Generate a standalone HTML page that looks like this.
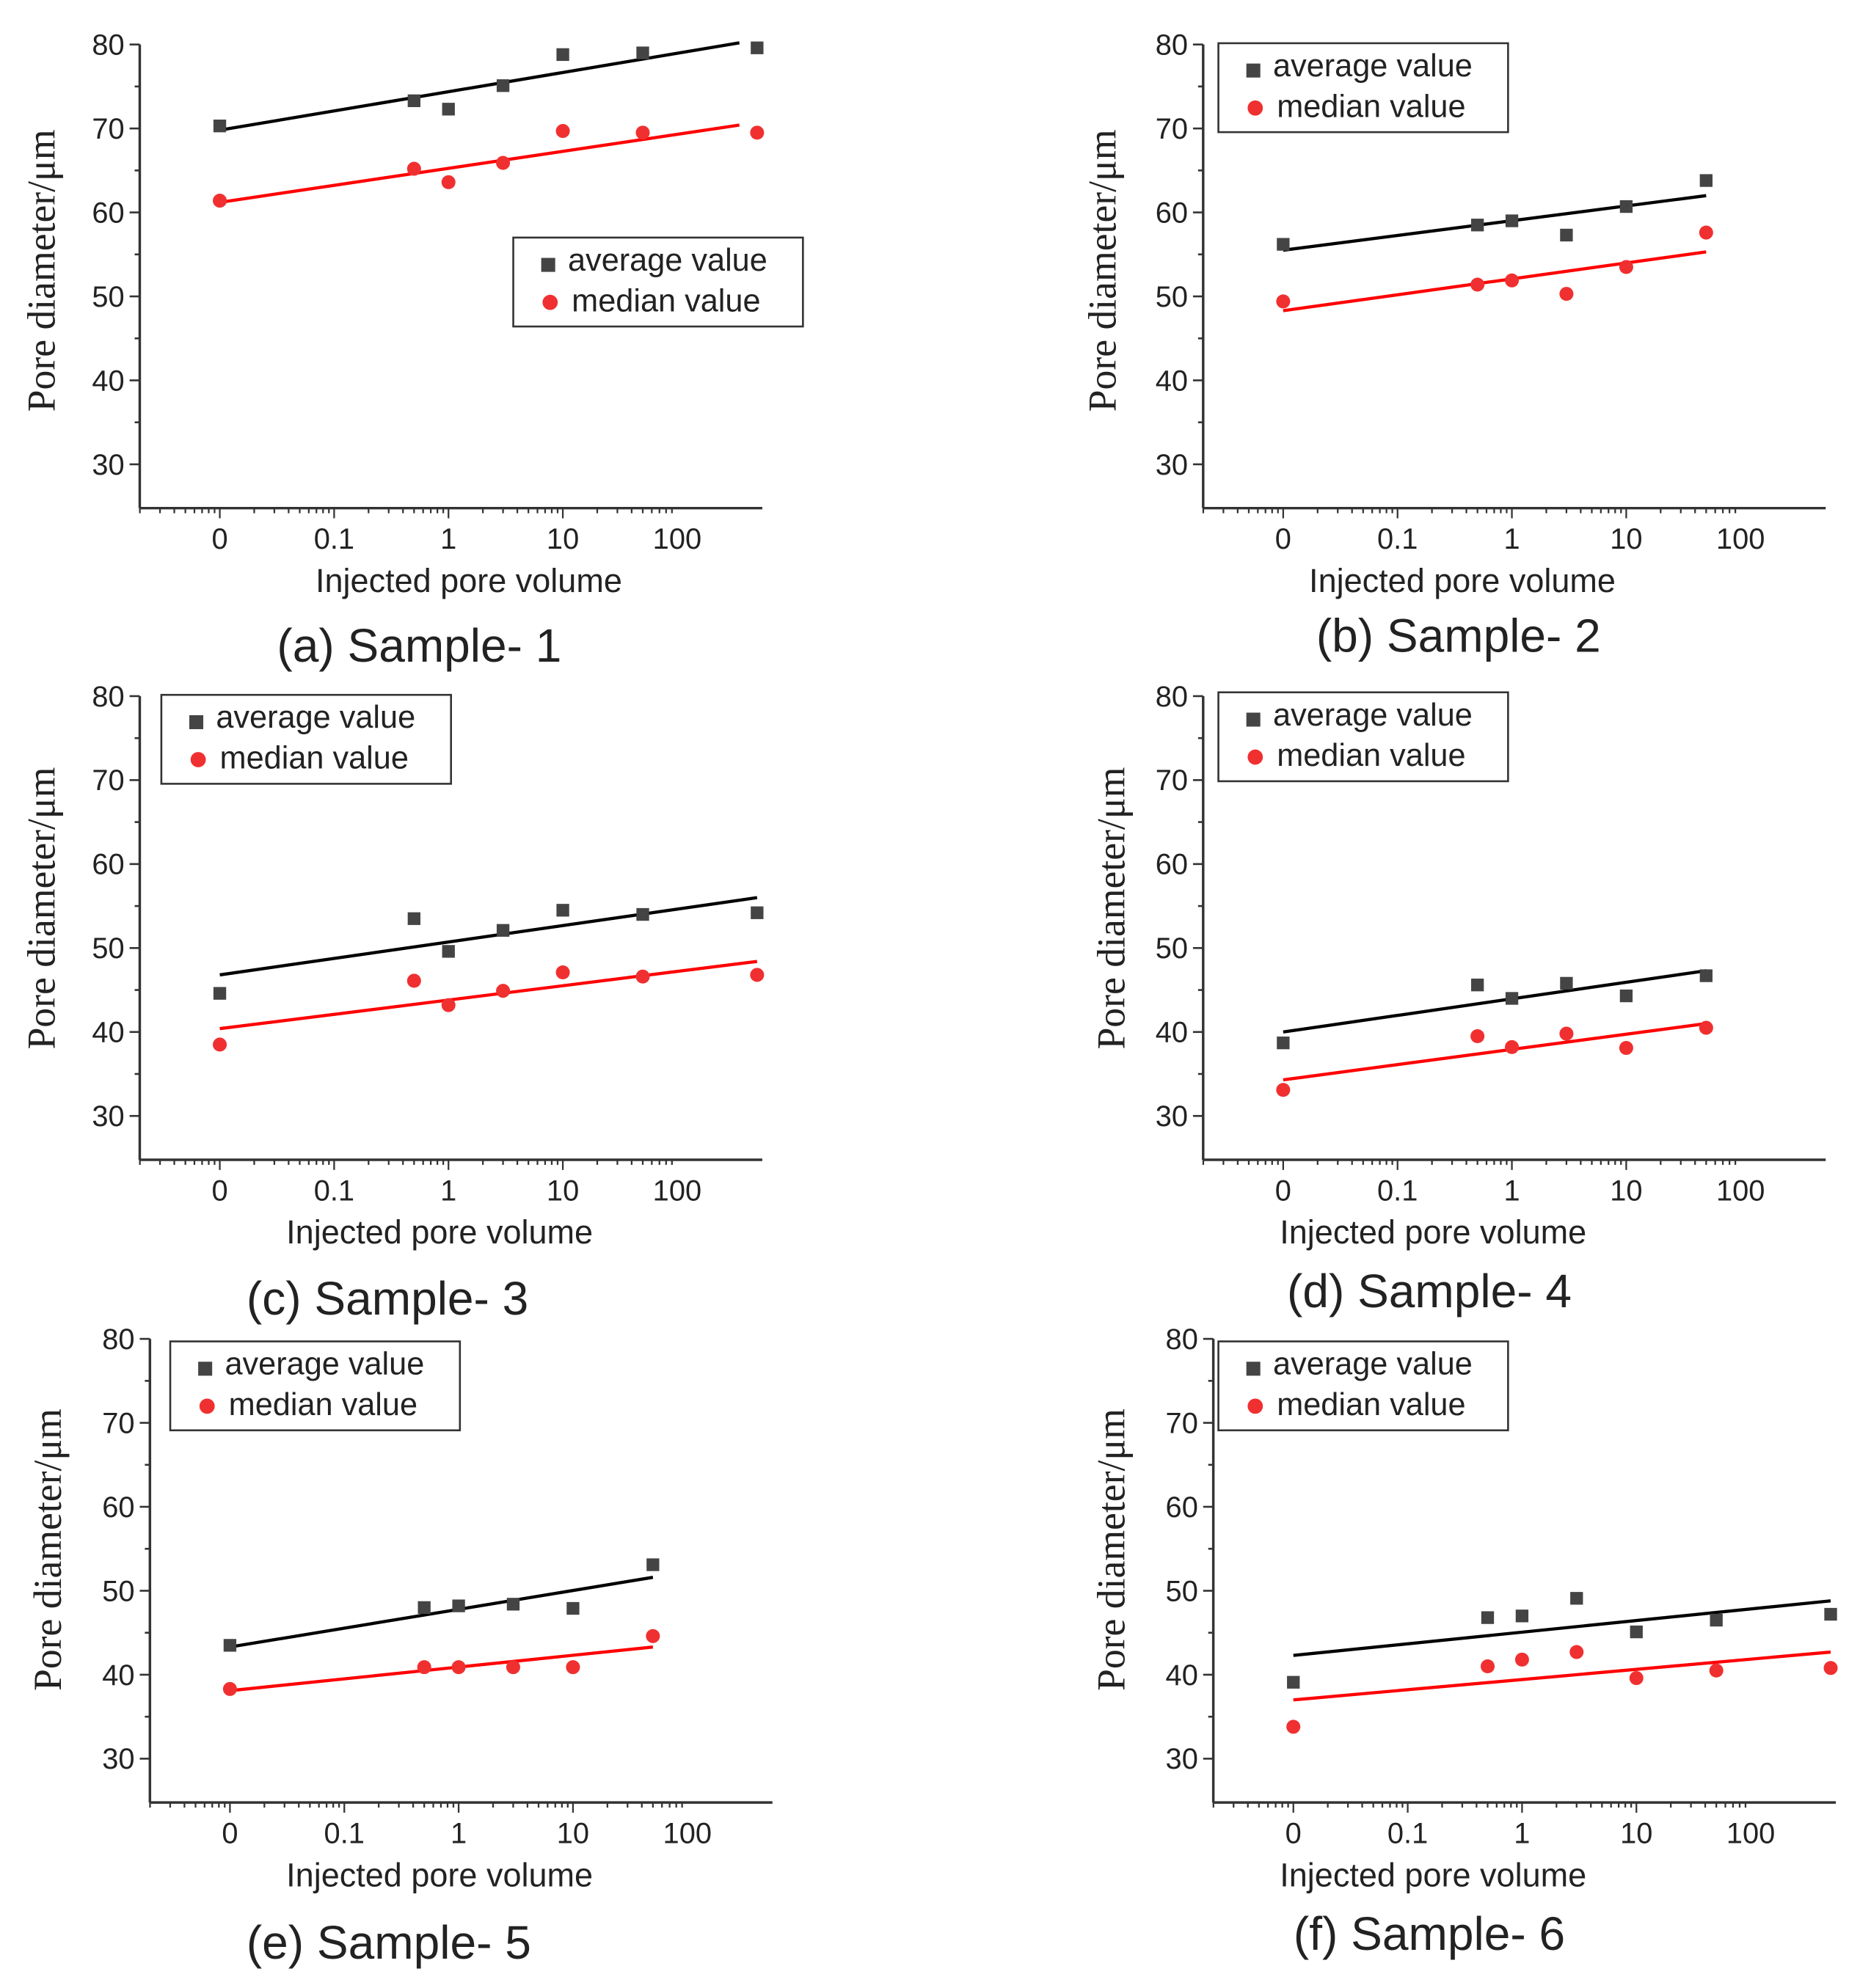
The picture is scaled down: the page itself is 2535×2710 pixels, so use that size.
<!DOCTYPE html>
<html><head><meta charset="utf-8"><style>
html,body{margin:0;padding:0;background:#fff;}
svg{display:block;}
text{font-family:"Liberation Sans",sans-serif;fill:#222;}
</style></head><body>
<svg id="chart" width="2535" height="2710" viewBox="0 0 1464 1565" xmlns="http://www.w3.org/2000/svg"></svg>
<script>
// x categories (injected pore volume; 0 plotted two decades below 1)
const xCatsA = [0, 0.5, 1, 3, 10, 50, 500];
const xCatsB = [0, 0.5, 1, 3, 10, 50];
const xTickLabels = ["0", "0.1", "1", "10", "100"];
const yTickLabels = [30, 40, 50, 60, 70, 80];
// series values
const avgA = [70.3, 73.3, 72.3, 75.1, 78.8, 79.0, 79.6];
const medA = [61.4, 65.2, 63.6, 65.9, 69.7, 69.5, 69.5];
const avgB = [56.2, 58.5, 59.0, 57.3, 60.7, 63.8];
const medB = [49.4, 51.4, 51.9, 50.3, 53.5, 57.6];
const avgC = [44.6, 53.5, 49.6, 52.1, 54.5, 54.0, 54.2];
const medC = [38.5, 46.1, 43.2, 44.9, 47.1, 46.6, 46.8];
const avgD = [38.7, 45.6, 44.0, 45.8, 44.3, 46.7];
const medD = [33.1, 39.5, 38.2, 39.8, 38.1, 40.5];
const avgE = [43.5, 48.0, 48.2, 48.4, 47.9, 53.1];
const medE = [38.3, 40.9, 40.9, 40.9, 40.9, 44.6];
const avgF = [39.1, 46.8, 47.0, 49.1, 45.1, 46.5, 47.2];
const medF = [33.8, 41.0, 41.8, 42.7, 39.6, 40.5, 40.8];
// fit line endpoints [value at x=0, value at last x]
const fitAvgA = [69.8, 80.2], fitMedA = [61.2, 70.4], fitEndA = 350;
const fitAvgB = [55.5, 62.0], fitMedB = [48.3, 55.3];
const fitAvgC = [46.8, 56.0], fitMedC = [40.4, 48.4];
const fitAvgD = [40.0, 47.3], fitMedD = [34.3, 41.0];
const fitAvgE = [43.3, 51.6], fitMedE = [38.1, 43.3];
const fitAvgF = [42.3, 48.8], fitMedF = [37.0, 42.7];

const NS = "http://www.w3.org/2000/svg";
const svg = document.getElementById("chart");
function mk(tag, attrs, parent, txt){
  const e = document.createElementNS(NS, tag);
  for (const k in attrs) e.setAttribute(k, attrs[k]);
  if (txt !== undefined) e.textContent = txt;
  (parent || svg).appendChild(e);
  return e;
}
const panels = [
 {id:"a", ax:110, top:35, x0:173, xEnd:600, xs:xCatsA, avg:avgA, med:medA, fa:fitAvgA, fm:fitMedA, fEnd:fitEndA, leg:[404,187], xl:[369,457], cap:[330,508], yl:[33,213], title:"(a) Sample- 1"},
 {id:"b", ax:947, top:35, x0:1010, xEnd:1437, xs:xCatsB, avg:avgB, med:medB, fa:fitAvgB, fm:fitMedB, fEnd:50, leg:[959,34], xl:[1151,457], cap:[1148,500], yl:[868,213], title:"(b) Sample- 2"},
 {id:"c", ax:110, top:548, x0:173, xEnd:600, xs:xCatsA, avg:avgC, med:medC, fa:fitAvgC, fm:fitMedC, fEnd:500, leg:[127,547], xl:[346,970], cap:[305,1022], yl:[33,715], title:"(c) Sample- 3"},
 {id:"d", ax:947, top:548, x0:1010, xEnd:1437, xs:xCatsB, avg:avgD, med:medD, fa:fitAvgD, fm:fitMedD, fEnd:50, leg:[959,545], xl:[1128,970], cap:[1125,1016], yl:[875,715], title:"(d) Sample- 4"},
 {id:"e", ax:118, top:1054, x0:181, xEnd:608, xs:xCatsB, avg:avgE, med:medE, fa:fitAvgE, fm:fitMedE, fEnd:50, leg:[134,1056], xl:[346,1476], cap:[306,1529], yl:[38,1220], title:"(e) Sample- 5"},
 {id:"f", ax:955, top:1054, x0:1018, xEnd:1445, xs:xCatsA, avg:avgF, med:medF, fa:fitAvgF, fm:fitMedF, fEnd:500, leg:[959,1056], xl:[1128,1476], cap:[1125,1522], yl:[875,1220], title:"(f) Sample- 6"}
];
const DEC = 90, PER10 = 66.1;
panels.forEach(p => {
  const g = mk("g", {});
  
  
  const yS = v => p.top + (80 - v) / 10 * PER10;
  const xS = v => p.x0 + DEC * (2 + (v <= 0 ? -2 : Math.log10(v)));
  const bottom = p.top + 365;
  const ya = mk("line", {x1:p.ax, y1:p.top, x2:p.ax, y2:bottom, stroke:"#333", "stroke-width":2}, g);
  
  
  const xa = mk("line", {x1:p.ax, y1:bottom, x2:p.xEnd, y2:bottom, stroke:"#333", "stroke-width":2}, g);
  
  
  for (let v = 30; v <= 80; v += 5) {
    const y = yS(v), major = v % 10 === 0;
    mk("line", {x1:p.ax - (major ? 8 : 4), y1:y, x2:p.ax, y2:y, stroke:"#333", "stroke-width":1.5}, g);
  }
  yTickLabels.forEach(v => {
    const t = mk("text", {x:p.ax - 12, y:yS(v) + 8, "text-anchor":"end", "font-size":23}, g, v);
    
    
  });
  for (let d = -4; d <= 3; d++) {
    for (let m = 1; m < 10; m++) {
      const pos = p.x0 + DEC * (d + Math.log10(m));
      if (pos < p.ax || pos > p.xEnd) continue;
      mk("line", {x1:pos, y1:bottom, x2:pos, y2:bottom + (m === 1 ? 8 : 4), stroke:"#333", "stroke-width":1.3}, g);
    }
  }
  xTickLabels.forEach((s, i) => {
    const t = mk("text", {x:p.x0 + DEC * i, y:bottom + 32, "text-anchor":"middle", "font-size":23}, g, s);
    
    
  });
  const fl = (f, c, nm) => {
    const l = mk("line", {x1:xS(0), y1:yS(f[0]), x2:xS(p.fEnd), y2:yS(f[1]), stroke:c, "stroke-width":2.5}, g);
    
    
  };
  fl(p.fa, "#000", "average-fit-line");
  fl(p.fm, "#f00", "median-fit-line");
  p.xs.forEach((xv, i) => {
    const r = mk("rect", {x:xS(xv) - 5, y:yS(p.avg[i]) - 5, width:10, height:10, fill:"#444"}, g);
    
    
    const c = mk("circle", {cx:xS(xv), cy:yS(p.med[i]), r:5.5, fill:"#f03030"}, g);
    
    
  });
  const [lx, ly] = p.leg;
  const lg = mk("g", {}, g);
  
  
  mk("rect", {x:lx, y:ly, width:228, height:70, fill:"#fff", stroke:"#333", "stroke-width":1.5}, lg);
  mk("rect", {x:lx + 22, y:ly + 16, width:11, height:11, fill:"#444"}, lg);
  mk("circle", {cx:lx + 29, cy:ly + 51, r:6, fill:"#f03030"}, lg);
  const t1 = mk("text", {x:lx + 43, y:ly + 26, "font-size":25}, lg, "average value");
  
  
  const t2 = mk("text", {x:lx + 46, y:ly + 58, "font-size":25}, lg, "median value");
  
  
  const xt = mk("text", {x:p.xl[0], y:p.xl[1] + 9, "text-anchor":"middle", "font-size":26}, g, "Injected pore volume");
  
  
  const yt = mk("text", {x:0, y:0, "text-anchor":"middle", "font-size":31, style:"font-family:'Liberation Serif',serif", transform:`translate(${p.yl[0] + 10},${p.yl[1]}) rotate(-90)`}, g, "Pore diameter/μm");
  
  
  const ct = mk("text", {x:p.cap[0], y:p.cap[1] + 13, "text-anchor":"middle", "font-size":37}, g, p.title);
  
  
});
</script>
</body></html>
